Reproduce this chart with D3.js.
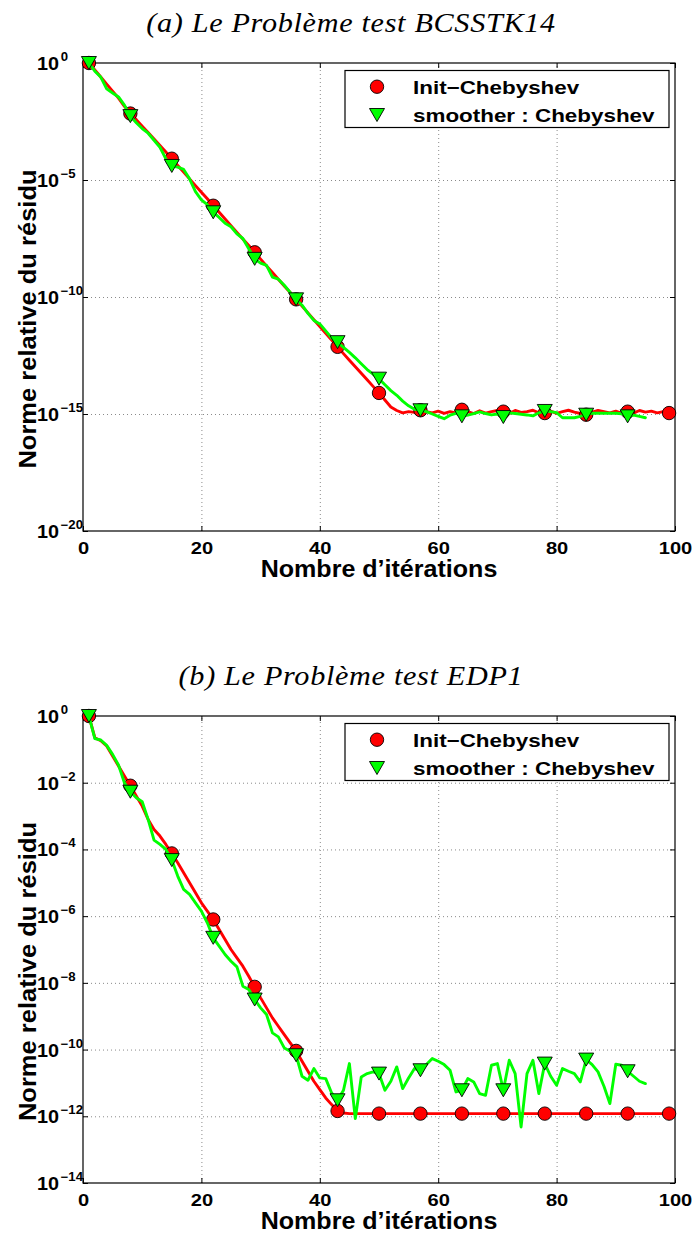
<!DOCTYPE html>
<html>
<head>
<meta charset="utf-8">
<script src="https://cdn.jsdelivr.net/npm/d3@7"></script>
<style>
  body { margin: 0; background: #fff; }
  svg { display: block; }
</style>
</head>
<body>
<svg id="fig" width="694" height="1236"></svg>
<script>
// ---- data ---------------------------------------------------------------
const titles = ["(a) Le Problème test BCSSTK14", "(b) Le Problème test EDP1"];
const seriesNames = ["Init\u2212Chebyshev", "smoother : Chebyshev"];
const xLabel = "Nombre d\u2019itérations";
const yLabel = "Norme relative du résidu";
const iterationTicks = [0, 20, 40, 60, 80, 100];
const bcsstk14Exponents = [0, -5, -10, -15, -20];
const edp1Exponents = [0, -2, -4, -6, -8, -10, -12, -14];
const markerEvery = 7;

// log10 of the relative residual norm, iterations 1, 2, 3, ...
const bcsstk14Init = [
  0, -0.3, -0.6, -0.9, -1.2, -1.5, -1.85, -2.16, -2.42, -2.7,
  -2.97, -3.25, -3.52, -3.8, -4.09, -4.38, -4.66, -4.95, -5.24, -5.52,
  -5.8, -6.1, -6.38, -6.67, -6.95, -7.24, -7.52, -7.8, -8.09, -8.38,
  -8.67, -8.95, -9.24, -9.53, -9.81, -10.1, -10.39, -10.68, -10.97, -11.26,
  -11.55, -11.84, -12.13, -12.42, -12.7, -12.98, -13.26, -13.54, -13.82, -14.1,
  -14.4, -14.7, -14.85, -14.95, -14.9, -14.93, -14.84, -14.9, -14.95, -14.88,
  -14.97, -14.9, -14.95, -14.82, -14.9, -14.98, -14.86, -14.96, -14.9, -14.85,
  -14.9, -14.98, -14.85, -14.93, -14.9, -14.84, -14.95, -14.96, -14.88, -14.97,
  -14.9, -14.84, -14.92, -14.98, -15.03, -14.92, -14.85, -14.9, -14.95, -14.88,
  -14.97, -14.9, -14.96, -14.85, -14.92, -14.88, -14.95, -14.9, -14.96
];
const bcsstk14Smoother = [
  0, -0.35, -0.6, -1.1, -1.28, -1.45, -1.8, -2.27, -2.55, -2.8,
  -3.0, -3.3, -3.6, -4.1, -4.4, -4.45, -4.55, -4.95, -5.5, -5.85,
  -6.05, -6.38, -6.6, -6.85, -7.0, -7.3, -7.5, -7.94, -8.37, -8.55,
  -8.65, -9.15, -9.24, -9.5, -9.8, -10.1, -10.35, -10.7, -11.0, -11.15,
  -11.45, -11.75, -11.93, -12.15, -12.37, -12.6, -12.85, -13.1, -13.3, -13.49,
  -13.75, -14.0, -14.2, -14.45, -14.65, -14.8, -14.84, -14.9, -15.0, -15.1,
  -15.2, -15.05, -14.97, -15.1, -15.05, -14.98, -14.91, -14.98, -15.04, -15.0,
  -15.13, -14.95, -14.98, -15.01, -15.04, -15.08, -14.95, -14.87, -14.9, -14.94,
  -15.16, -15.16, -15.16, -15.1, -15.03, -14.97, -14.97, -14.97, -14.97, -14.97,
  -14.99, -15.1, -15.05, -15.1, -15.16
];
const edp1Init = [
  0, -0.65, -0.74, -0.9, -1.2, -1.5, -1.8, -2.09, -2.4, -2.7,
  -3.1, -3.4, -3.6, -3.85, -4.12, -4.4, -4.7, -5.0, -5.3, -5.6,
  -5.85, -6.1, -6.4, -6.7, -7.0, -7.25, -7.5, -7.8, -8.12, -8.45,
  -8.75, -9.05, -9.3, -9.55, -9.8, -10.04, -10.35, -10.65, -10.95, -11.2,
  -11.45, -11.65, -11.84, -11.9, -11.92, -11.92, -11.92, -11.92, -11.92, -11.92,
  -11.92, -11.92, -11.92, -11.92, -11.92, -11.92, -11.92, -11.92, -11.92, -11.92,
  -11.92, -11.92, -11.92, -11.92, -11.92, -11.92, -11.92, -11.92, -11.92, -11.92,
  -11.92, -11.92, -11.92, -11.92, -11.92, -11.92, -11.92, -11.92, -11.92, -11.92,
  -11.92, -11.92, -11.92, -11.92, -11.92, -11.92, -11.92, -11.92, -11.92, -11.92,
  -11.92, -11.92, -11.92, -11.92, -11.92, -11.92, -11.92, -11.92, -11.92
];
const edp1Smoother = [
  0, -0.68, -0.72, -0.88, -1.15, -1.47, -2.0, -2.27, -2.45, -2.57,
  -3.1, -3.72, -3.85, -4.0, -4.32, -4.8, -5.2, -5.35, -5.6, -5.85,
  -6.2, -6.65, -6.9, -7.15, -7.35, -7.52, -8.1, -8.2, -8.5, -8.75,
  -8.95, -9.5, -9.62, -9.95, -10.05, -10.17, -10.8, -10.92, -10.57, -10.85,
  -10.87, -11.3, -11.52, -11.22, -10.42, -12.07, -10.82, -10.72, -10.67, -10.72,
  -11.22, -10.95, -10.52, -11.17, -10.85, -10.57, -10.62, -10.45, -10.27, -10.35,
  -10.45, -10.62, -11.27, -11.22, -10.87, -10.97, -11.32, -11.37, -10.47, -10.42,
  -11.22, -10.32, -10.72, -12.32, -10.72, -10.32, -11.32, -10.42, -10.8, -11.07,
  -10.57, -10.65, -10.72, -10.97, -10.3, -10.45, -10.67, -11.1, -11.62, -10.44,
  -10.47, -10.65, -10.8, -10.95, -11.02
];

// ---- layout -------------------------------------------------------------
const sans = "'Liberation Sans', Arial, Helvetica, sans-serif";
const serif = "'Liberation Serif', 'Times New Roman', serif";
const plotLeft = 83, plotRight = 675;
const panels = [
  { title: titles[0], top: 63, bottom: 531, exps: bcsstk14Exponents,
    init: bcsstk14Init, smoother: bcsstk14Smoother },
  { title: titles[1], top: 716, bottom: 1183, exps: edp1Exponents,
    init: edp1Init, smoother: edp1Smoother }
];
const RED = "#ff0000", GREEN = "#00ff00";
const tickLen = 5;

const svg = d3.select("#fig");

const downTriangle = "M-7.5,-6.5L7.5,-6.5L0,6.5Z";

function drawPanel(p) {
  const g = svg.append("g");
  const x = d3.scaleLinear().domain([0, 100]).range([plotLeft, plotRight]);
  const y = d3.scaleLog().domain([Math.pow(10, d3.min(p.exps)), 1]).range([p.bottom, p.top]);
  const yTicks = p.exps.map(e => Math.pow(10, e));
  const h = p.bottom - p.top, w = plotRight - plotLeft;

  // dotted grid
  const gridStyle = s => {
    s.select(".domain").remove();
    s.selectAll("line").attr("stroke", "#8a8a8a").attr("stroke-width", 1)
      .attr("stroke-dasharray", "1,3");
  };
  g.append("g").attr("transform", `translate(0,${p.bottom})`)
    .call(d3.axisBottom(x).tickValues(iterationTicks.slice(1, -1)).tickSize(-h).tickFormat(""))
    .call(gridStyle);
  g.append("g").attr("transform", `translate(${plotLeft},0)`)
    .call(d3.axisLeft(y).tickValues(yTicks.slice(1, -1)).tickSize(-w).tickFormat(""))
    .call(gridStyle);

  // inward ticks on all four sides
  const tickStyle = s => {
    s.select(".domain").remove();
    s.selectAll("line").attr("stroke", "#000").attr("stroke-width", 1);
  };
  const xb = g.append("g").attr("transform", `translate(0,${p.bottom})`)
    .call(d3.axisBottom(x).tickValues(iterationTicks).tickSize(-tickLen).tickFormat(d3.format("d")))
    .call(tickStyle);
  xb.selectAll("text")
    .attr("y", 23).attr("dy", null)
    .attr("transform", "scale(1.22,1)")
    .attr("fill", "#000")
    .style("font-family", sans).style("font-weight", "bold").style("font-size", "16.5px");
  g.append("g").attr("transform", `translate(0,${p.top})`)
    .call(d3.axisTop(x).tickValues(iterationTicks).tickSize(-tickLen).tickFormat(""))
    .call(tickStyle);
  g.append("g").attr("transform", `translate(${plotLeft},0)`)
    .call(d3.axisLeft(y).tickValues(yTicks).tickSize(-tickLen).tickFormat(""))
    .call(tickStyle);
  g.append("g").attr("transform", `translate(${plotRight},0)`)
    .call(d3.axisRight(y).tickValues(yTicks).tickSize(-tickLen).tickFormat(""))
    .call(tickStyle);

  // power-of-ten tick labels
  const yl = g.append("g").selectAll("text").data(p.exps).join("text")
    .attr("transform", e => `translate(37,${y(Math.pow(10, e)) + 7}) scale(1.1,1)`)
    .attr("fill", "#000")
    .style("font-family", sans).style("font-weight", "bold");
  yl.append("tspan").text("10").style("font-size", "18px");
  yl.append("tspan").attr("dx", 1.5).attr("dy", -9)
    .text(e => e === 0 ? "0" : "\u2212" + Math.abs(e)).style("font-size", "12px");

  // frame
  g.append("rect").attr("x", plotLeft).attr("y", p.top).attr("width", w).attr("height", h)
    .attr("fill", "none").attr("stroke", "#000").attr("stroke-width", 1.2);

  // series
  const toPoints = arr => arr.map((e, i) => ({ it: i + 1, v: Math.pow(10, e) }));
  const line = d3.line().x(d => x(d.it)).y(d => y(d.v));
  const series = [
    { pts: toPoints(p.init), color: RED, marker: "circle" },
    { pts: toPoints(p.smoother), color: GREEN, marker: "tri" }
  ];
  series.forEach(s => {
    g.append("path").datum(s.pts).attr("d", line)
      .attr("fill", "none").attr("stroke", s.color).attr("stroke-width", 2.9)
      .attr("stroke-linejoin", "round").attr("stroke-linecap", "round");
    const marks = s.pts.filter((d, i) => i % markerEvery === 0);
    if (s.marker === "circle") {
      g.append("g").selectAll("circle").data(marks).join("circle")
        .attr("cx", d => x(d.it)).attr("cy", d => y(d.v)).attr("r", 6.7)
        .attr("fill", s.color).attr("stroke", "#000").attr("stroke-width", 0.9);
    } else {
      g.append("g").selectAll("path").data(marks).join("path")
        .attr("transform", d => `translate(${x(d.it)},${y(d.v)})`)
        .attr("d", downTriangle)
        .attr("fill", s.color).attr("stroke", "#000").attr("stroke-width", 0.9);
    }
  });

  // legend
  const lg = g.append("g");
  lg.append("rect").attr("x", 345).attr("y", p.top + 7.5).attr("width", 324).attr("height", 57)
    .attr("fill", "#fff").attr("stroke", "#000").attr("stroke-width", 1.2);
  lg.append("circle").attr("cx", 377).attr("cy", p.top + 23.7).attr("r", 6.7)
    .attr("fill", RED).attr("stroke", "#000").attr("stroke-width", 0.9);
  lg.append("path").attr("transform", `translate(377,${p.top + 52})`).attr("d", downTriangle)
    .attr("fill", GREEN).attr("stroke", "#000").attr("stroke-width", 0.9);
  seriesNames.forEach((name, i) => {
    lg.append("text")
      .attr("transform", `translate(413,${p.top + 30.8 + i * 28}) scale(1.18,1)`)
      .attr("fill", "#000")
      .style("font-family", sans).style("font-weight", "bold").style("font-size", "19px")
      .text(name);
  });

  // axis titles
  g.append("text")
    .attr("transform", `translate(${(plotLeft + plotRight) / 2},${p.bottom + 46}) scale(1.09,1)`)
    .attr("text-anchor", "middle").attr("fill", "#000")
    .style("font-family", sans).style("font-weight", "bold").style("font-size", "23px")
    .text(xLabel);
  g.append("text")
    .attr("transform", `translate(36,${(p.top + p.bottom) / 2 + 22}) rotate(-90) scale(1.11,1)`)
    .attr("text-anchor", "middle").attr("fill", "#000")
    .style("font-family", sans).style("font-weight", "bold").style("font-size", "23px")
    .text(yLabel);

  // panel caption
  g.append("text")
    .attr("transform", `translate(351,${p.top - 31}) scale(1.12,1)`)
    .attr("text-anchor", "middle").attr("fill", "#000")
    .style("font-family", serif).style("font-style", "italic").style("font-size", "27px")
    .style("letter-spacing", "0.6px")
    .text(p.title);
}

panels.forEach(drawPanel);
</script>
</body>
</html>
